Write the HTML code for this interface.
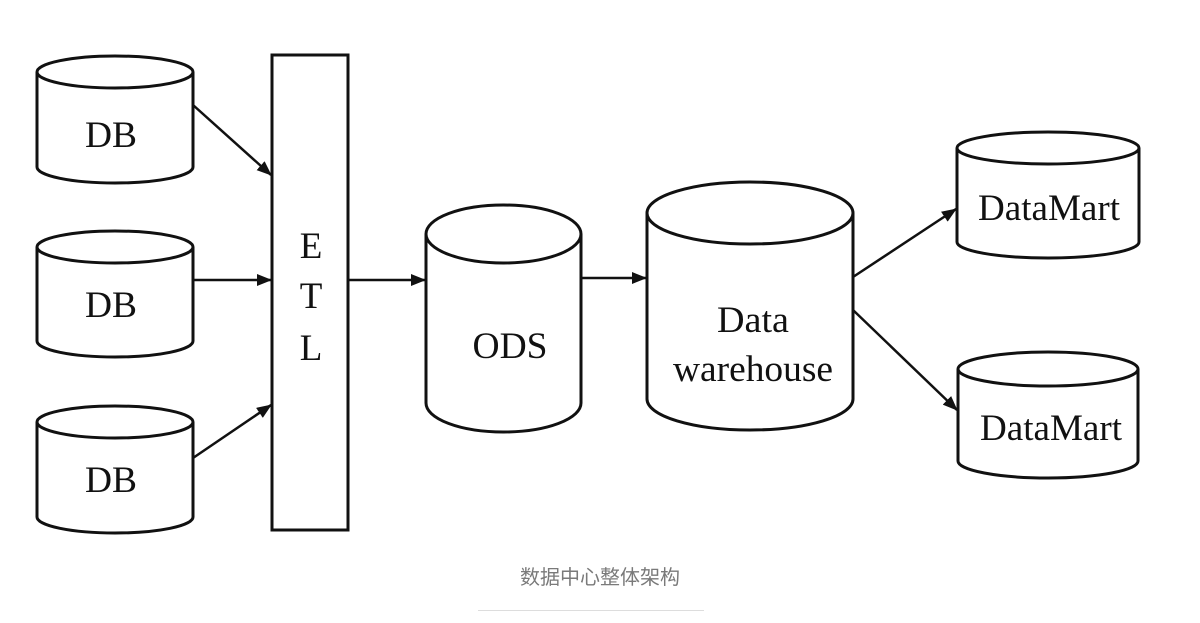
<!DOCTYPE html>
<html><head><meta charset="utf-8"><style>
html,body{margin:0;padding:0;background:#fff;width:1200px;height:623px;overflow:hidden}
svg text{font-family:"Liberation Serif",serif;fill:#111}
.cap{position:absolute;left:0;top:561px;width:1200px;text-align:center;font-family:"Liberation Sans","Noto Sans CJK SC",sans-serif;font-size:20px;color:#7a7a7a}
.line{position:absolute;left:478px;top:610px;width:226px;height:1px;background:#ddd}
</style></head><body>
<svg width="1200" height="623" style="position:absolute;left:0;top:0">
<defs><marker id="a" markerWidth="15" markerHeight="12" refX="14" refY="6" orient="auto" markerUnits="userSpaceOnUse"><path d="M0,0 L15,6 L0,12 Z" fill="#111"/></marker></defs>
<g fill="#fff" stroke="#111" stroke-width="3">
<path d="M37,72 V167 A78,16 0 0 0 193,167 V72"/><ellipse cx="115" cy="72" rx="78" ry="16"/>
<path d="M37,247 V341 A78,16 0 0 0 193,341 V247"/><ellipse cx="115" cy="247" rx="78" ry="16"/>
<path d="M37,422 V517 A78,16 0 0 0 193,517 V422"/><ellipse cx="115" cy="422" rx="78" ry="16"/>
<rect x="272" y="55" width="76" height="475"/>
<path d="M426,234 V403 A77.5,29 0 0 0 581,403 V234"/><ellipse cx="503.5" cy="234" rx="77.5" ry="29"/>
<path d="M647,213 V399 A103,31 0 0 0 853,399 V213"/><ellipse cx="750" cy="213" rx="103" ry="31"/>
<path d="M957,148 V242 A91,16 0 0 0 1139,242 V148"/><ellipse cx="1048" cy="148" rx="91" ry="16"/>
<path d="M958,369 V461 A90,17 0 0 0 1138,461 V369"/><ellipse cx="1048" cy="369" rx="90" ry="17"/>
</g>
<g stroke="#111" stroke-width="2.5" fill="none" marker-end="url(#a)">
<line x1="193" y1="105" x2="271" y2="175"/>
<line x1="193" y1="280" x2="271" y2="280"/>
<line x1="193" y1="458" x2="271" y2="405"/>
<line x1="348" y1="280" x2="425" y2="280"/>
<line x1="581" y1="278" x2="646" y2="278"/>
<line x1="853" y1="277" x2="956" y2="209"/>
<line x1="853" y1="310" x2="957" y2="410"/>
</g>
<g font-size="37" text-anchor="middle" lengthAdjust="spacingAndGlyphs">
<text x="111" y="147" textLength="52" lengthAdjust="spacingAndGlyphs">DB</text>
<text x="111" y="317" textLength="52" lengthAdjust="spacingAndGlyphs">DB</text>
<text x="111" y="492" textLength="52" lengthAdjust="spacingAndGlyphs">DB</text>
<text x="311" y="258">E</text>
<text x="311" y="308">T</text>
<text x="311" y="360">L</text>
<text x="510" y="358" textLength="75" lengthAdjust="spacingAndGlyphs">ODS</text>
<text x="753" y="332" textLength="72" lengthAdjust="spacingAndGlyphs">Data</text>
<text x="753" y="381" textLength="160" lengthAdjust="spacingAndGlyphs">warehouse</text>
<text x="1049" y="220" textLength="142" lengthAdjust="spacingAndGlyphs">DataMart</text>
<text x="1051" y="440" textLength="142" lengthAdjust="spacingAndGlyphs">DataMart</text>
</g>
</svg>
<div class="cap">数据中心整体架构</div>
<div class="line"></div>
</body></html>
